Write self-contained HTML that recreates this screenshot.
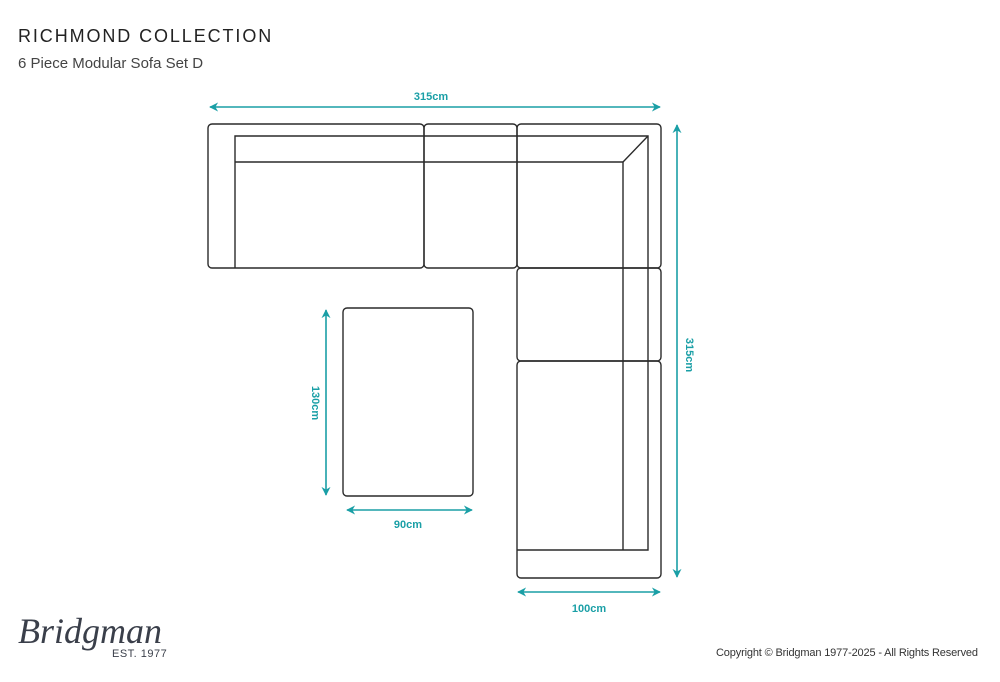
<!DOCTYPE html>
<html><head><meta charset="utf-8"><style>
html,body{margin:0;padding:0;background:#fff;width:1000px;height:682px;overflow:hidden}
</style></head><body>
<svg width="1000" height="682" viewBox="0 0 1000 682" xmlns="http://www.w3.org/2000/svg">
<defs>
<marker id="ah" viewBox="0 0 10 10" refX="9" refY="5" markerWidth="9" markerHeight="9" orient="auto-start-reverse" markerUnits="userSpaceOnUse"><path d="M0,0 L10,5 L0,10 L3,5 z" fill="#1a9fa6"/></marker>
</defs>
<text x="18" y="42" font-family="Liberation Sans, sans-serif" font-size="18" letter-spacing="1.9" fill="#222">RICHMOND COLLECTION</text>
<text x="18" y="68" font-family="Liberation Sans, sans-serif" font-size="15" fill="#444">6 Piece Modular Sofa Set D</text>

<g fill="none" stroke="#2a2a2a" stroke-width="1.4">
<rect x="208" y="124" width="216" height="144" rx="4"/>
<rect x="424" y="124" width="93" height="144" rx="4"/>
<rect x="517" y="124" width="144" height="144" rx="4"/>
<rect x="517" y="268" width="144" height="93" rx="4"/>
<rect x="517" y="361" width="144" height="217" rx="4"/>
<path d="M235 268 V136 H648 V550 H517"/>
<path d="M235 162 H623 V550"/>
<path d="M648 136 L623 162"/>
<rect x="343" y="308" width="130" height="188" rx="4"/>
</g>

<g stroke="#1a9fa6" stroke-width="1.6" fill="none">
<line x1="210" y1="107" x2="660" y2="107" marker-start="url(#ah)" marker-end="url(#ah)"/>
<line x1="677" y1="125" x2="677" y2="577" marker-start="url(#ah)" marker-end="url(#ah)"/>
<line x1="326" y1="310" x2="326" y2="495" marker-start="url(#ah)" marker-end="url(#ah)"/>
<line x1="347" y1="510" x2="472" y2="510" marker-start="url(#ah)" marker-end="url(#ah)"/>
<line x1="518" y1="592" x2="660" y2="592" marker-start="url(#ah)" marker-end="url(#ah)"/>
</g>
<g font-family="Liberation Sans, sans-serif" font-size="11" font-weight="bold" fill="#1a9fa6" text-anchor="middle">
<text x="431" y="100">315cm</text>
<text x="408" y="528">90cm</text>
<text x="589" y="612">100cm</text>
<text transform="translate(686,355) rotate(90)">315cm</text>
<text transform="translate(312,403) rotate(90)">130cm</text>
</g>

<text x="18" y="643" font-family="Liberation Serif, serif" font-style="italic" font-size="36" fill="#3a3f4a" textLength="144">Bridgman</text>
<text x="112" y="657" font-family="Liberation Sans, sans-serif" font-size="11" letter-spacing="0.5" fill="#3a3f4a">EST. 1977</text>
<text x="978" y="656" text-anchor="end" font-family="Liberation Sans, sans-serif" font-size="11" fill="#333" textLength="262">Copyright © Bridgman 1977-2025 - All Rights Reserved</text>
</svg>
</body></html>
